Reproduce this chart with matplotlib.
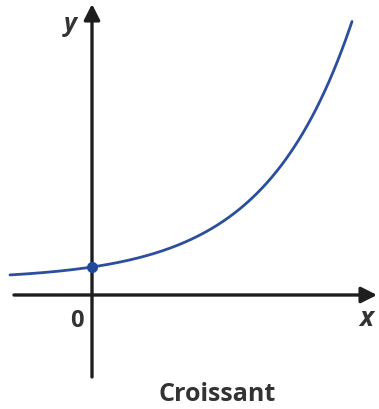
import numpy as np
import matplotlib
matplotlib.use("Agg")
import matplotlib.pyplot as plt

# Growth curve y = A + B * exp(K * x)
A = 0.150
B = 0.130
K = 1.15
x_start, x_end = -0.82, 2.60

# Axis extents
x_axis_from, x_axis_to = -0.78, 2.85
y_axis_from, y_axis_to = -0.82, 2.91

origin_label = "0"
x_label = "x"
y_label = "y"
caption = "Croissant"

fig = plt.figure(figsize=(3.79, 4.10), dpi=100)
ax = fig.add_axes([0, 0, 1, 1])
ax.set_xlim(-0.92, 2.87)
ax.set_ylim(-1.14, 2.96)
ax.axis("off")

axis_color = "#1e1e1e"
arrow = dict(arrowstyle="-|>,head_length=0.95,head_width=0.48", color=axis_color,
             lw=2.4, shrinkA=0, shrinkB=0)
ax.annotate("", xy=(x_axis_to, 0), xytext=(x_axis_from, 0), arrowprops=arrow)
ax.annotate("", xy=(0, y_axis_to), xytext=(0, y_axis_from), arrowprops=arrow)

xs = np.linspace(x_start, x_end, 400)
ys = A + B * np.exp(K * xs)
curve_color = "#2b4f9c"
ax.plot(xs, ys, color=curve_color, lw=2.0, solid_capstyle="round", zorder=3)
ax.plot([0], [A + B], "o", color="#1f4a9a", ms=7, zorder=4)

text_color = "#333333"
ax.text(-0.15, -0.25, origin_label, ha="center", va="center", fontsize=17,
        fontweight="bold", color=text_color, family="Open Sans")
ax.text(2.74, -0.23, x_label, ha="center", va="center", fontsize=19,
        fontstyle="italic", fontweight="bold", color=text_color, family="Open Sans")
ax.text(-0.22, 2.71, y_label, ha="center", va="center", fontsize=18,
        fontstyle="italic", fontweight="bold", color=text_color, family="Open Sans")
ax.text(1.25, -0.99, caption, ha="center", va="center", fontsize=18,
        fontweight="bold", color=text_color, family="Open Sans")

fig.savefig("out.png", dpi=100)
